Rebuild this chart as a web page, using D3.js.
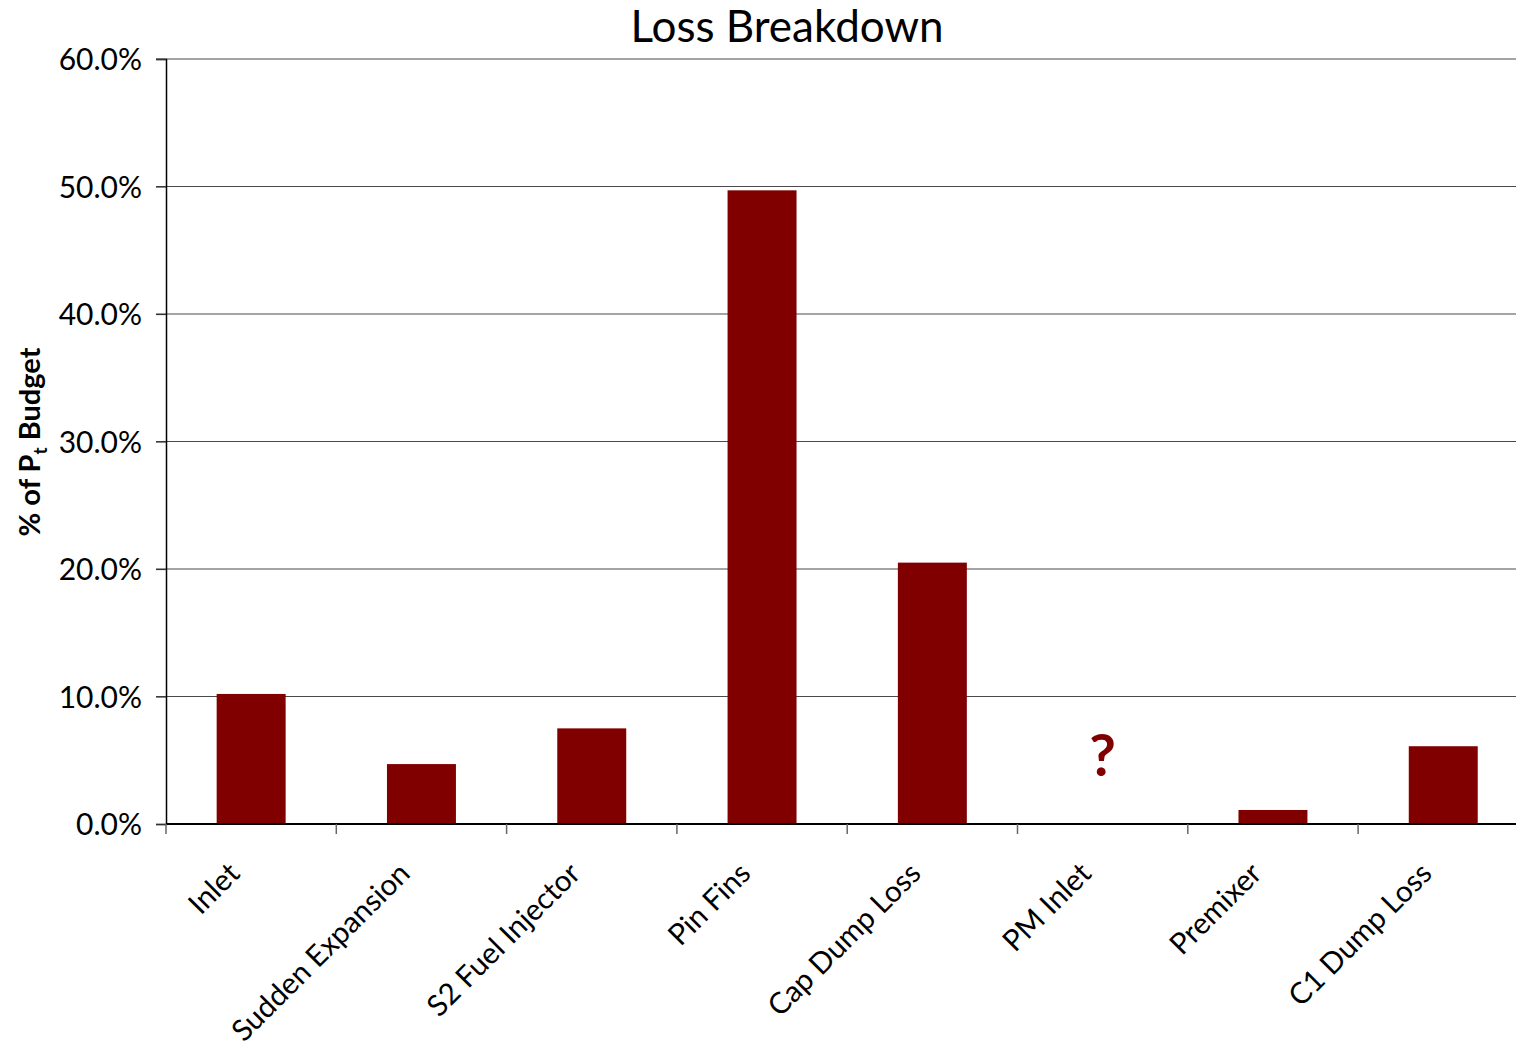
<!DOCTYPE html>
<html><head><meta charset="utf-8">
<script src="https://cdn.jsdelivr.net/npm/d3@7"></script>
<style>body{margin:0;background:#fff}svg{display:block}text{font-family:Lato,"Open Sans",sans-serif;fill:#000}</style>
</head><body>
<svg id="c" width="1516" height="1048"></svg>
<script>
const categories = ["Inlet","Sudden Expansion","S2 Fuel Injector","Pin Fins","Cap Dump Loss","PM Inlet","Premixer","C1 Dump Loss"];
const values = [0.102, 0.047, 0.075, 0.497, 0.205, null, 0.011, 0.061];
const unknownMark = ["PM Inlet"];
const yTicks = [0, 0.1, 0.2, 0.3, 0.4, 0.5, 0.6];
const title = "Loss Breakdown";

const svg = d3.select("#c");
const plotLeft = 166, plotTop = 59, plotBottom = 824, bandW = 170.3;
const x = d3.scaleBand().domain(categories).range([plotLeft, plotLeft + bandW*categories.length]).paddingInner(0.595).paddingOuter(0.2975);
const y = d3.scaleLinear().domain([0, 0.6]).range([plotBottom, plotTop]);

// gridlines
svg.append("g").selectAll("line").data(yTicks.filter(d=>d>0)).join("line")
  .attr("x1", plotLeft-10).attr("x2", 1516).attr("y1", d=>y(d)).attr("y2", d=>y(d))
  .attr("stroke", "#4a4a4a").attr("stroke-width", 1.2);

// y axis
const ya = svg.append("g").attr("transform", `translate(${plotLeft},0)`)
  .call(d3.axisLeft(y).tickValues(yTicks).tickSize(10).tickPadding(14).tickFormat(d3.format(".1%")));
ya.select(".domain").attr("stroke", "#000").attr("stroke-width", 1.5);
ya.selectAll(".tick line").attr("stroke", "#333").attr("stroke-width", 1.2);
ya.selectAll("text").attr("font-size", 30).attr("font-family", "Lato").attr("dy", "0.36em");

// bars
svg.append("g").selectAll("rect").data(categories.map((c,i)=>({c, v: values[i]})).filter(d=>d.v!=null)).join("rect")
  .attr("x", d=>x(d.c)).attr("width", x.bandwidth())
  .attr("y", d=>y(d.v)).attr("height", d=>plotBottom - y(d.v))
  .attr("fill", "#800000");

// x axis
const xa = svg.append("g").attr("transform", `translate(0,${plotBottom})`)
  .call(d3.axisBottom(x).tickSize(0).tickFormat(""));
xa.select(".domain").attr("stroke", "#000").attr("stroke-width", 1.8).attr("d", `M${plotLeft},0H1516`);
// category boundary ticks
svg.append("g").selectAll("line").data(categories).join("line")
  .attr("x1", d=>x(d) - x.step()*x.paddingOuter()).attr("x2", d=>x(d) - x.step()*x.paddingOuter())
  .attr("y1", plotBottom).attr("y2", plotBottom+10).attr("stroke", "#666").attr("stroke-width", 1.5);

// category labels
svg.append("g").selectAll("text").data(categories).join("text")
  .attr("transform", d=>`translate(${x(d)+x.bandwidth()/2 - 17},${plotBottom+44}) rotate(-45)`)
  .attr("text-anchor", "end").attr("dy", "0.35em").attr("font-size", 29.5).text(d=>d);

// unknown mark
svg.append("g").selectAll("text").data(unknownMark).join("text")
  .attr("x", d=>x(d)+x.bandwidth()/2).attr("y", plotBottom-48)
  .attr("text-anchor", "middle").attr("font-size", 58).attr("font-weight", "bold")
  .attr("font-family", "Open Sans").style("fill", "#800000").text("?");

// title
svg.append("text").attr("x", 787).attr("y", 42).attr("text-anchor", "middle")
  .attr("font-size", 44).text(title);

// y axis title
const yt = svg.append("text").attr("transform", "translate(40,442) rotate(-90)")
  .attr("text-anchor", "middle").attr("font-size", 29).attr("font-weight", "bold");
yt.append("tspan").text("% of P");
yt.append("tspan").attr("font-size", 19).attr("dy", 7).text("t");
yt.append("tspan").attr("dy", -7).text(" Budget");
</script>
</body></html>
